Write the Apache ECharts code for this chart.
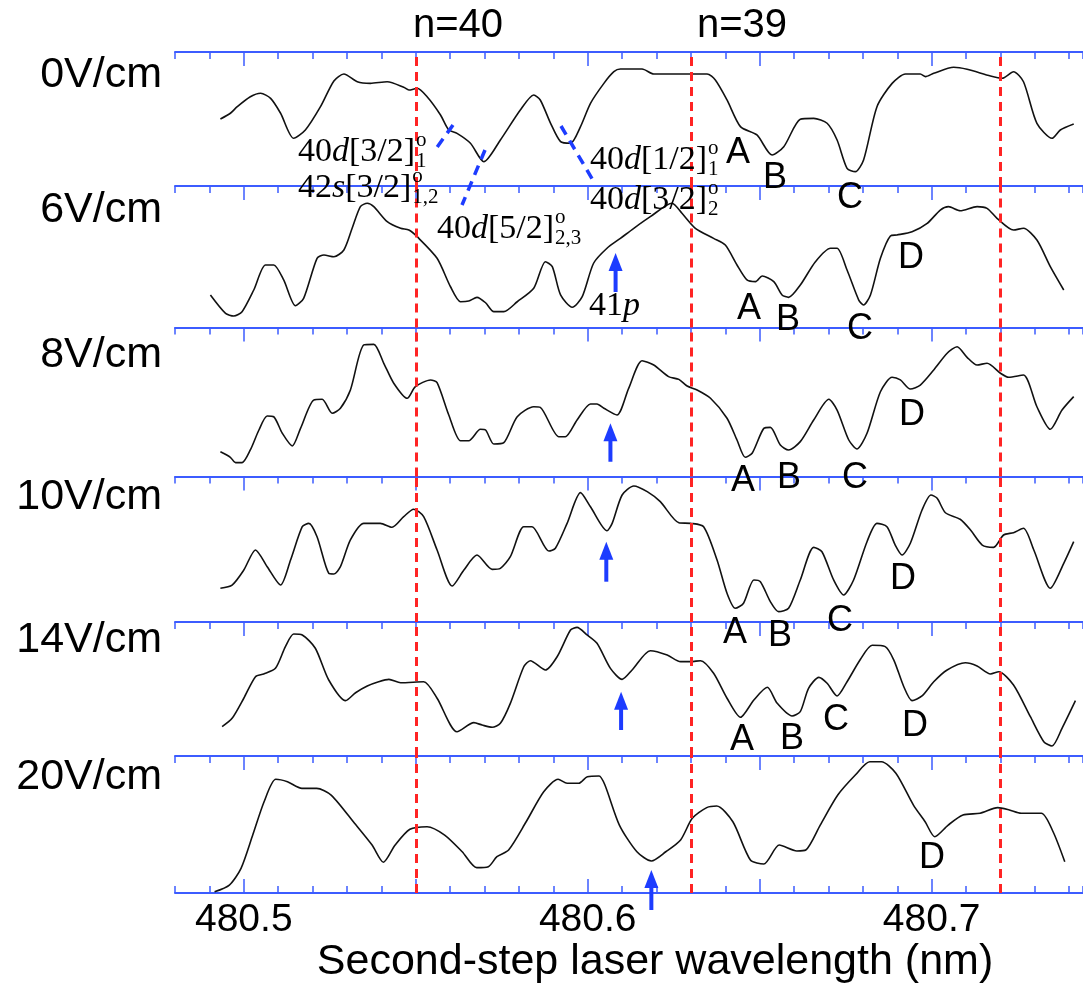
<!DOCTYPE html>
<html><head><meta charset="utf-8">
<script src="https://cdn.jsdelivr.net/npm/echarts@6/dist/echarts.min.js"></script>
<style>html,body{margin:0;padding:0;background:#fff}#c{width:1083px;height:986px}</style>
</head><body><div id="c"></div>
<script>
// ---------------- data ----------------
const fieldLabels = ['0V/cm','6V/cm','8V/cm','10V/cm','14V/cm','20V/cm'];
const xTickLabels = [480.5, 480.6, 480.7];
const majorTicks = [480.5, 480.55, 480.6, 480.65, 480.7];
const thresholds = [480.5482, 480.6304, 480.7193]; // n=40, n=39, next
const thresholdLabels = ['n=40', 'n=39'];

const trace0V = [[480.4932,50.0],[480.4961,54.3],[480.4981,59.2],[480.5019,66.6],[480.5049,69.2],[480.5078,65.4],[480.5107,54.3],[480.5145,35.6],[480.5179,41.8],[480.5223,59.2],[480.5262,78.4],[480.5291,83.6],[480.5330,77.8],[480.5368,76.6],[480.5417,77.8],[480.5465,73.7],[480.5480,71.6],[480.5504,72.9],[480.5533,66.6],[480.5572,53.0],[480.5596,41.8],[480.5620,39.3],[480.5659,31.9],[480.5698,18.1],[480.5746,34.3],[480.5804,56.7],[480.5843,67.9],[480.5862,64.2],[480.5892,46.8],[480.5921,33.1],[480.5950,31.9],[480.5979,44.3],[480.6008,61.7],[480.6047,76.6],[480.6076,85.3],[480.6095,87.3],[480.6158,87.3],[480.6192,83.6],[480.6347,83.6],[480.6371,79.1],[480.6405,64.2],[480.6444,44.3],[480.6492,38.1],[480.6536,23.1],[480.6570,29.3],[480.6618,49.8],[480.6657,50.5],[480.6696,46.8],[480.6725,34.3],[480.6754,13.2],[480.6778,10.7],[480.6802,19.4],[480.6841,59.2],[480.6885,76.6],[480.6924,83.6],[480.6967,83.6],[480.6982,81.6],[480.7006,84.1],[480.7064,88.6],[480.7103,87.1],[480.7171,82.1],[480.7205,80.4],[480.7238,85.3],[480.7267,77.8],[480.7306,46.8],[480.7350,35.6],[480.7374,41.8],[480.7413,46.3]];
const trace6V = [[480.4903,23.0],[480.4947,10.0],[480.4971,8.1],[480.4995,11.2],[480.5029,26.5],[480.5063,44.2],[480.5087,44.2],[480.5116,33.6],[480.5150,15.4],[480.5174,20.6],[480.5213,48.9],[480.5233,51.2],[480.5262,50.0],[480.5291,54.8],[480.5315,70.1],[480.5339,85.4],[480.5359,87.8],[480.5378,85.4],[480.5417,74.8],[480.5456,70.1],[480.5480,68.9],[480.5504,64.2],[480.5562,48.9],[480.5601,28.8],[480.5630,18.2],[480.5654,18.7],[480.5678,21.3],[480.5703,17.5],[480.5727,11.2],[480.5756,11.2],[480.5795,18.2],[480.5843,27.7],[480.5877,46.5],[480.5897,43.0],[480.5921,23.0],[480.5955,14.3],[480.5984,21.8],[480.6017,45.4],[480.6056,56.0],[480.6095,63.0],[480.6134,70.1],[480.6182,78.3],[480.6245,87.8],[480.6274,80.7],[480.6313,70.1],[480.6366,63.0],[480.6400,58.3],[480.6434,44.2],[480.6463,33.6],[480.6488,32.4],[480.6507,36.4],[480.6541,32.4],[480.6565,23.0],[480.6584,21.3],[480.6618,30.0],[480.6662,46.5],[480.6706,56.0],[480.6725,56.0],[480.6754,40.6],[480.6788,19.4],[480.6802,15.9],[480.6822,23.0],[480.6851,48.9],[480.6880,64.7],[480.6899,65.4],[480.6943,67.7],[480.6987,73.6],[480.7025,83.0],[480.7049,85.4],[480.7083,82.5],[480.7132,85.4],[480.7161,84.2],[480.7190,77.2],[480.7238,68.9],[480.7267,70.1],[480.7306,61.8],[480.7345,43.0],[480.7384,26.5]];
const trace8V = [[480.4932,16.6],[480.4961,12.9],[480.4976,9.3],[480.4995,9.3],[480.5019,17.8],[480.5044,31.2],[480.5068,40.6],[480.5087,40.1],[480.5112,29.0],[480.5141,20.5],[480.5165,32.3],[480.5203,51.3],[480.5228,51.8],[480.5257,42.4],[480.5281,45.8],[480.5310,58.1],[480.5349,88.3],[480.5378,88.7],[480.5407,76.0],[480.5436,62.6],[480.5475,52.5],[480.5499,60.3],[480.5543,64.8],[480.5562,63.0],[480.5596,41.3],[480.5630,24.0],[480.5654,24.0],[480.5688,31.7],[480.5703,31.2],[480.5727,21.8],[480.5756,22.7],[480.5795,40.1],[480.5843,46.8],[480.5862,46.4],[480.5916,26.7],[480.5935,26.7],[480.5969,37.9],[480.6008,48.7],[480.6027,48.7],[480.6047,45.8],[480.6085,41.3],[480.6119,59.2],[480.6158,77.7],[480.6192,74.8],[480.6235,67.0],[480.6265,65.2],[480.6289,60.7],[480.6318,58.1],[480.6357,52.5],[480.6405,39.1],[480.6434,24.5],[480.6458,12.9],[480.6478,15.6],[480.6512,32.3],[480.6531,33.0],[480.6560,21.1],[480.6584,17.8],[480.6618,23.4],[480.6657,37.9],[480.6701,51.8],[480.6725,44.6],[480.6759,24.5],[480.6783,18.5],[480.6812,29.0],[480.6851,56.9],[480.6885,66.6],[480.6909,64.8],[480.6938,58.7],[480.6967,61.4],[480.7006,71.5],[480.7045,82.7],[480.7074,87.1],[480.7103,80.0],[480.7132,74.8],[480.7161,76.0],[480.7200,69.3],[480.7224,66.6],[480.7267,68.1],[480.7306,46.8],[480.7345,31.7],[480.7379,44.6],[480.7413,53.6]];
const trace10V = [[480.4932,23.2],[480.4966,25.4],[480.5000,35.7],[480.5034,49.5],[480.5068,38.0],[480.5107,25.4],[480.5136,42.6],[480.5170,65.5],[480.5189,67.8],[480.5213,58.6],[480.5247,33.5],[480.5262,33.0],[480.5281,38.0],[480.5310,56.4],[480.5349,67.8],[480.5397,67.8],[480.5431,65.1],[480.5465,72.4],[480.5494,77.5],[480.5523,72.4],[480.5562,49.5],[480.5606,24.7],[480.5640,35.7],[480.5678,46.0],[480.5722,36.2],[480.5746,36.9],[480.5775,44.9],[480.5814,65.5],[480.5838,65.5],[480.5887,48.8],[480.5906,50.7],[480.5940,67.8],[480.5979,88.9],[480.6008,79.2],[480.6056,62.7],[480.6071,67.8],[480.6100,87.3],[480.6134,93.5],[480.6173,89.6],[480.6211,82.7],[480.6265,68.2],[480.6299,67.8],[480.6337,65.5],[480.6376,42.6],[480.6405,19.7],[480.6429,9.4],[480.6453,12.9],[480.6483,28.9],[480.6502,27.7],[480.6531,14.0],[480.6555,7.1],[480.6584,9.4],[480.6618,28.9],[480.6657,51.3],[480.6681,48.3],[480.6715,28.9],[480.6744,18.6],[480.6773,28.9],[480.6812,55.2],[480.6841,67.8],[480.6870,65.5],[480.6894,52.9],[480.6914,46.0],[480.6938,54.1],[480.6972,77.0],[480.6998,87.3],[480.7016,85.0],[480.7040,75.1],[480.7083,70.6],[480.7113,63.2],[480.7147,52.9],[480.7180,51.3],[480.7209,59.8],[480.7238,61.4],[480.7267,64.4],[480.7297,49.5],[480.7345,23.2],[480.7384,40.3],[480.7413,55.2]];
const trace14V = [[480.4937,21.9],[480.4966,28.1],[480.5000,43.1],[480.5034,59.2],[480.5058,61.2],[480.5092,65.4],[480.5121,81.6],[480.5145,91.0],[480.5170,90.3],[480.5208,80.4],[480.5247,56.7],[480.5296,41.3],[480.5325,47.2],[480.5359,52.2],[480.5392,55.4],[480.5422,57.2],[480.5456,54.7],[480.5523,55.4],[480.5562,43.1],[480.5620,18.1],[480.5669,24.9],[480.5693,23.1],[480.5722,21.4],[480.5746,24.4],[480.5775,39.3],[480.5814,66.6],[480.5833,71.1],[480.5877,64.2],[480.5911,74.1],[480.5950,94.0],[480.5969,96.0],[480.5998,90.3],[480.6027,84.1],[480.6066,65.4],[480.6100,57.2],[480.6129,64.2],[480.6182,78.6],[480.6231,75.4],[480.6270,70.4],[480.6299,70.4],[480.6328,71.1],[480.6366,61.7],[480.6405,43.1],[480.6444,28.9],[480.6483,41.8],[480.6522,51.3],[480.6551,39.3],[480.6594,29.9],[480.6618,33.1],[480.6642,50.5],[480.6672,58.7],[480.6696,54.3],[480.6725,44.8],[480.6754,55.4],[480.6793,72.2],[480.6827,82.6],[480.6865,81.6],[480.6890,71.6],[480.6919,51.7],[480.6943,41.3],[480.6972,44.8],[480.7006,55.4],[480.7045,64.2],[480.7098,69.6],[480.7132,67.2],[480.7171,61.2],[480.7195,62.9],[480.7238,53.0],[480.7287,29.3],[480.7326,10.7],[480.7350,7.5],[480.7379,20.7],[480.7418,41.3]];
const trace20V = [[480.4915,0.9],[480.4958,5.8],[480.4992,18.0],[480.5026,42.3],[480.5059,66.6],[480.5093,83.0],[480.5127,81.2],[480.5169,76.4],[480.5212,76.4],[480.5254,71.5],[480.5322,50.9],[480.5373,35.0],[480.5406,22.4],[480.5440,35.0],[480.5483,46.5],[480.5533,48.4],[480.5584,42.3],[480.5635,30.1],[480.5677,18.5],[480.5711,19.2],[480.5736,26.5],[480.5770,31.4],[480.5821,52.0],[480.5872,73.9],[480.5914,83.0],[480.5940,80.1],[480.5974,80.1],[480.5999,84.9],[480.6033,85.4],[480.6050,78.8],[480.6092,49.6],[480.6143,30.1],[480.6185,23.4],[480.6227,30.1],[480.6270,38.7],[480.6304,54.5],[480.6346,62.3],[480.6375,63.5],[480.6422,52.0],[480.6473,24.1],[480.6512,21.2],[480.6557,35.0],[480.6608,30.7],[480.6634,31.4],[480.6676,49.6],[480.6727,71.5],[480.6778,86.1],[480.6820,95.8],[480.6854,95.8],[480.6896,87.4],[480.6947,64.2],[480.6981,52.0],[480.7009,41.1],[480.7048,49.6],[480.7091,56.9],[480.7141,58.2],[480.7192,62.3],[480.7226,60.6],[480.7260,58.2],[480.7319,58.2],[480.7353,44.7],[480.7387,22.8]];
const traces = [trace0V, trace6V, trace8V, trace10V, trace14V, trace20V];

// 41p marker arrows: panel index, wavelength, head / tail level (panel units)
const arrowPanel = [1, 2, 3, 4, 5];
const arrowNm = [480.6081, 480.6066, 480.6054, 480.6097, 480.6185];
const arrowHead = [52.7, 35.7, 55.2, 48.0, 16.8];
const arrowTail = [25.1, 9.9, 27.7, 19.4, -12.4];

// ---------------- layout / style ----------------
const BLUE = '#3c5cff', ARROW = '#1d3cff', RED = '#ff2424';
const FONT = '"Liberation Sans", Arial, Helvetica, sans-serif';
const SERIF = '"Liberation Serif", "Times New Roman", serif';
const xMin = 480.48, xMax = 480.744;
const panelTops = [52, 186, 327.5, 476.5, 622, 756];
const panelBottom = 893;

const grids = [], xAxes = [], yAxes = [], series = [], minorIdx = [];
function minorAxis(i, pos) {
  return {gridIndex: i, type: 'value', min: xMin, max: xMax, interval: 0.01, position: pos,
    axisLine: {show: true, onZero: false, lineStyle: {color: BLUE, width: 2}},
    axisTick: {show: true, inside: true, length: 7, lineStyle: {color: BLUE, width: 1.5}},
    axisLabel: {show: false}, splitLine: {show: false}};
}
function majorAxis(i, pos, labels) {
  return {gridIndex: i, type: 'value', min: xMin, max: xMax, position: pos,
    axisLine: {show: false, onZero: false},
    axisTick: {show: true, inside: true, length: 14, customValues: majorTicks, lineStyle: {color: BLUE, width: 1.5}},
    axisLabel: labels ? {show: true, customValues: xTickLabels, formatter: v => v.toFixed(1), margin: 8,
      color: '#000', fontSize: 39, fontFamily: FONT} : {show: false},
    splitLine: {show: false}};
}
for (let i = 0; i < 6; i++) {
  const top = panelTops[i];
  const bottom = i < 5 ? panelTops[i + 1] : panelBottom;
  grids.push({left: 175, right: 0, top: top, height: bottom - top, outerBoundsMode: 'none'});
  minorIdx.push(xAxes.length);
  xAxes.push(minorAxis(i, 'top'));
  xAxes.push(majorAxis(i, 'top', false));
  if (i === 5) {
    xAxes.push(minorAxis(i, 'bottom'));
    xAxes.push(majorAxis(i, 'bottom', true));
  }
  yAxes.push({gridIndex: i, type: 'value', min: 0, max: 100, show: false});
  series.push({
    type: 'line', xAxisIndex: minorIdx[i], yAxisIndex: i, data: traces[i],
    showSymbol: false, smooth: 0.25, lineStyle: {color: '#111', width: 1.6}, z: 3,
    markLine: {silent: true, symbol: 'none', label: {show: false}, animation: false,
      lineStyle: {color: RED, type: [9, 6], width: 3}, data: thresholds.map(v => ({xAxis: v}))}
  });
}

const chart = echarts.init(document.getElementById('c'), null, {renderer: 'canvas'});
chart.setOption({animation: false, backgroundColor: '#fff', grid: grids, xAxis: xAxes, yAxis: yAxes, series: series});

// ---------------- annotations ----------------
const ctx = document.createElement('canvas').getContext('2d');
function tw(t, font) { ctx.font = font; return ctx.measureText(t).width; }
function txt(text, x, y, size, opts) {
  opts = opts || {};
  return {type: 'text', x: x, y: y, z: 20, silent: true, style: Object.assign({
    text: text, fill: '#000', font: (opts.italic ? 'italic ' : '') + size + 'px ' + (opts.family || FONT),
    align: opts.align || 'center', verticalAlign: 'middle', textAlign: opts.align || 'center', textVerticalAlign: 'middle'}, opts.style || {})};
}
const g = [];
const fieldY = [75, 210, 355, 497, 640, 777];
fieldLabels.forEach((t, i) => g.push(txt(t, 162, fieldY[i], 43, {align: 'right'})));
g.push(txt(thresholdLabels[0], 458, 26, 40));
g.push(txt(thresholdLabels[1], 742, 26, 40));
g.push(txt('Second-step laser wavelength (nm)', 655, 962, 43));

// state labels (serif, italic letter, super/subscripts)
const SZ = 34, SSZ = 21;
const stateLabels = [
  {x: 298, y: 152, pre: '40', it: 'd', post: '[3/2]', sup: 'o', sub: '1'},
  {x: 298, y: 188, pre: '42', it: 's', post: '[3/2]', sup: 'o', sub: '1,2'},
  {x: 437, y: 229, pre: '40', it: 'd', post: '[5/2]', sup: 'o', sub: '2,3'},
  {x: 590, y: 160, pre: '40', it: 'd', post: '[1/2]', sup: 'o', sub: '1'},
  {x: 590, y: 200, pre: '40', it: 'd', post: '[3/2]', sup: 'o', sub: '2'},
  {x: 589, y: 306, pre: '41', it: 'p', post: '', sup: '', sub: ''}
];
stateLabels.forEach(L => {
  const f = SZ + 'px ' + SERIF, fi = 'italic ' + SZ + 'px ' + SERIF;
  const w1 = tw(L.pre, f), w2 = tw(L.it, fi), w3 = tw(L.post, f);
  g.push(txt(L.pre, L.x, L.y, SZ, {align: 'left', family: SERIF}));
  g.push(txt(L.it, L.x + w1, L.y, SZ, {align: 'left', family: SERIF, italic: true}));
  if (L.post) g.push(txt(L.post, L.x + w1 + w2, L.y, SZ, {align: 'left', family: SERIF}));
  const xe = L.x + w1 + w2 + w3 + 1;
  if (L.sup) g.push(txt(L.sup, xe, L.y - 12, SSZ, {align: 'left', family: SERIF}));
  if (L.sub) g.push(txt(L.sub, xe, L.y + 9, SSZ, {align: 'left', family: SERIF}));
});

// A B C D letters
const letters = [
  ['A',738,153],['B',775,178],['C',850,198],
  ['D',911,258],['A',749,309],['B',788,320],['C',860,329],
  ['D',912,415],['A',743,481],['B',789,478],['C',855,478],
  ['D',903,579],['C',840,621],['A',735,633],['B',780,636],
  ['C',836,720],['D',915,726],['A',742,740],['B',792,739],
  ['D',932,858]
];
letters.forEach(l => g.push(txt(l[0], l[1], l[2], 36)));

// blue dashed assignment lines
[[453,125,435,150],[485,150,462,205],[561,126,594,182]].forEach(s => g.push({
  type: 'line', z: 15, silent: true, shape: {x1: s[0], y1: s[1], x2: s[2], y2: s[3]},
  style: {stroke: ARROW, lineWidth: 3.5, lineDash: [10, 7]}}));

// arrows for 41p
arrowPanel.forEach((p, k) => {
  const h = chart.convertToPixel({xAxisIndex: minorIdx[p], yAxisIndex: p}, [arrowNm[k], arrowHead[k]]);
  const t = chart.convertToPixel({xAxisIndex: minorIdx[p], yAxisIndex: p}, [arrowNm[k], arrowTail[k]]);
  g.push({type: 'line', z: 15, silent: true, shape: {x1: h[0], y1: h[1] + 12, x2: t[0], y2: t[1]},
    style: {stroke: ARROW, lineWidth: 4}});
  g.push({type: 'polygon', z: 15, silent: true,
    shape: {points: [[h[0], h[1]], [h[0] - 7, h[1] + 18], [h[0] + 7, h[1] + 18]]}, style: {fill: ARROW}});
});

chart.setOption({graphic: {elements: g}});
</script>
</body></html>
